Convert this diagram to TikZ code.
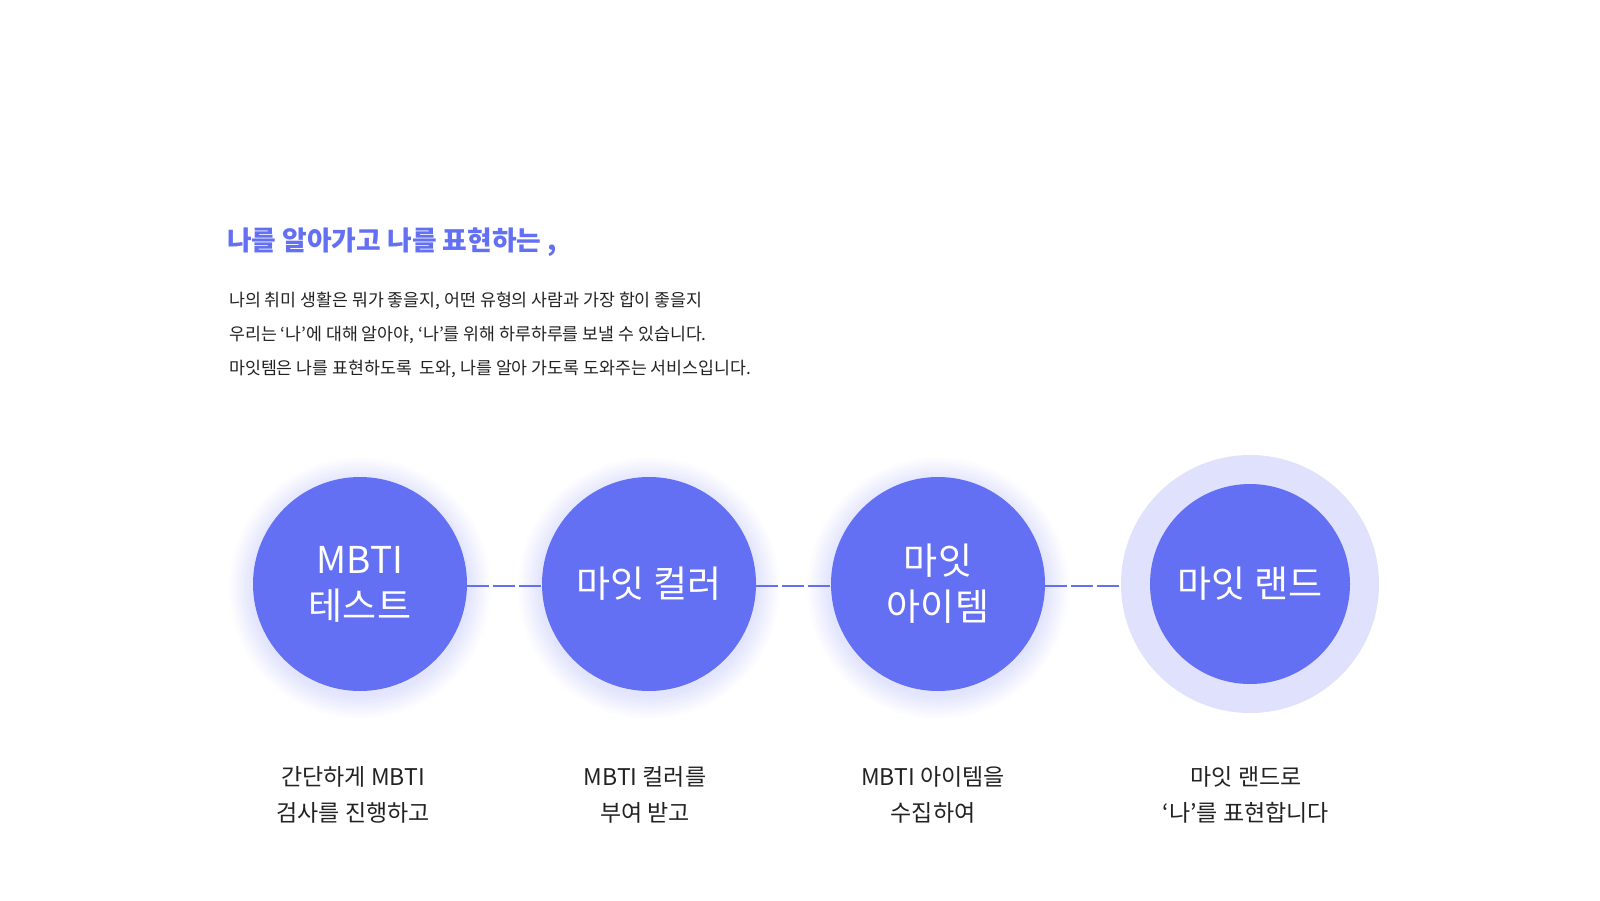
\documentclass[tikz,border=0pt]{standalone}
\usepackage{fontspec}
\setmainfont{Noto Sans CJK KR}
\definecolor{myblue}{HTML}{6470F3}
\definecolor{myring}{HTML}{E0E1FC}
\definecolor{mytext}{HTML}{222222}
\tikzset{
  stepcircle/.style={circle, fill=myblue, minimum size=214pt, inner sep=0pt, text=white, align=center, font=\fontsize{37}{46}\selectfont},
  steplabel/.style={text=mytext, align=center, font=\fontsize{23}{36}\selectfont},
  bodyline/.style={anchor=base west, text=mytext, inner sep=0pt, font=\fontsize{17.3}{20}\selectfont},
  link/.style={draw=myblue, line width=2pt, dash pattern=on 22pt off 4pt}
}
\begin{document}
\begin{tikzpicture}[x=1pt, y=-1pt, line join=round]
		\useasboundingbox (0,0) rectangle (1600,900);
		% soft glow behind the first three circles
		\foreach \x in {360,649,938}
		\foreach \k in {1,...,16}
		\fill[myblue, opacity=.01] (\x,588) circle ({107+1.5*\k});
		\fill[myring] (1250,584) circle (129);
		\node[anchor=base west, text=myblue, inner sep=0pt, font=\fontsize{26.8}{30}\selectfont\bfseries] (title) at (227,250) {나를 알아가고 나를 표현하는 ,};
		\node[bodyline] (body1) at (229,306) {나의 취미 생활은 뭐가 좋을지, 어떤 유형의 사람과 가장 합이 좋을지};
		\node[bodyline] (body2) at (229,340) {우리는 ‘나’에 대해 알아야, ‘나’를 위해 하루하루를 보낼 수 있습니다.};
		\node[bodyline] (body3) at (229,374) {마잇템은 나를 표현하도록 \ 도와, 나를 알아 가도록 도와주는 서비스입니다.};
		\node[stepcircle] (mbti) at (360,584) {MBTI\\테스트};
		\node[stepcircle] (color) at (649,584) {마잇 컬러};
		\node[stepcircle] (item) at (938,584) {마잇\\아이템};
		\node[stepcircle, minimum size=200pt] (land) at (1250,584) {마잇 랜드};
		\draw[link] ([yshift=-2pt]mbti.east) -- ([yshift=-2pt]color.west);
		\draw[link] ([yshift=-2pt]color.east) -- ([yshift=-2pt]item.west);
		\draw[link] ([yshift=-2pt]item.east) -- (1121,586);
		\node[steplabel] (mbtitext) at (353,795) {간단하게 MBTI\\검사를 진행하고};
		\node[steplabel] (colortext) at (645,795) {MBTI 컬러를\\부여 받고};
		\node[steplabel] (itemtext) at (933,795) {MBTI 아이템을\\수집하여};
		\node[steplabel] (landtext) at (1246,795) {마잇 랜드로\\‘나’를 표현합니다};
\end{tikzpicture}
\end{document}
